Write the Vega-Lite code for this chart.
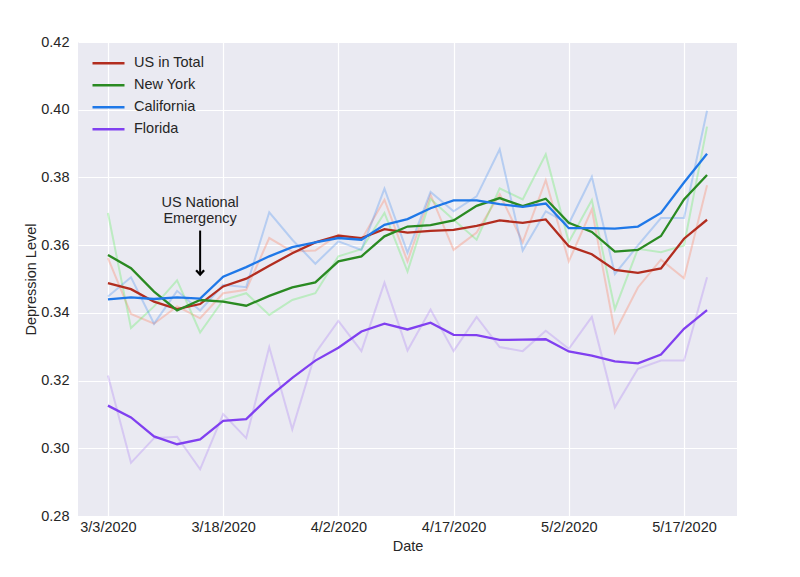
{
  "$schema": "https://vega.github.io/schema/vega-lite/v6.json",
  "width": 659,
  "height": 474,
  "autosize": {"type": "none"},
  "padding": {"left": 78, "top": 42, "right": 63, "bottom": 61},
  "background": "white",
  "config": {
    "font": "Liberation Sans",
    "view": {"fill": "#EAEAF2", "stroke": null},
    "axis": {
      "domain": false, "ticks": false, "grid": true, "gridColor": "white", "gridWidth": 1.2,
      "labelFont": "Liberation Sans", "labelFontSize": 14.5, "labelColor": "#262626",
      "titleFont": "Liberation Sans", "titleFontSize": 14.5, "titleFontWeight": "normal", "titleColor": "#262626"
    },
    "legend": {
      "labelFont": "Liberation Sans", "labelFontSize": 14.5, "labelColor": "#262626"
    }
  },
  "datasets": {
    "smooth": [
      {"d":"2020-03-03T00:00:00","s":"US in Total","v":0.3488},{"d":"2020-03-06T00:00:00","s":"US in Total","v":0.3470},{"d":"2020-03-09T00:00:00","s":"US in Total","v":0.3433},{"d":"2020-03-12T00:00:00","s":"US in Total","v":0.3411},{"d":"2020-03-15T00:00:00","s":"US in Total","v":0.3426},{"d":"2020-03-18T00:00:00","s":"US in Total","v":0.3478},{"d":"2020-03-21T00:00:00","s":"US in Total","v":0.3501},{"d":"2020-03-24T00:00:00","s":"US in Total","v":0.3539},{"d":"2020-03-27T00:00:00","s":"US in Total","v":0.3576},{"d":"2020-03-30T00:00:00","s":"US in Total","v":0.3608},{"d":"2020-04-02T00:00:00","s":"US in Total","v":0.3628},{"d":"2020-04-05T00:00:00","s":"US in Total","v":0.3621},{"d":"2020-04-08T00:00:00","s":"US in Total","v":0.3647},{"d":"2020-04-11T00:00:00","s":"US in Total","v":0.3637},{"d":"2020-04-14T00:00:00","s":"US in Total","v":0.3642},{"d":"2020-04-17T00:00:00","s":"US in Total","v":0.3645},{"d":"2020-04-20T00:00:00","s":"US in Total","v":0.3657},{"d":"2020-04-23T00:00:00","s":"US in Total","v":0.3673},{"d":"2020-04-26T00:00:00","s":"US in Total","v":0.3666},{"d":"2020-04-29T00:00:00","s":"US in Total","v":0.3676},{"d":"2020-05-02T00:00:00","s":"US in Total","v":0.3597},{"d":"2020-05-05T00:00:00","s":"US in Total","v":0.3573},{"d":"2020-05-08T00:00:00","s":"US in Total","v":0.3527},{"d":"2020-05-11T00:00:00","s":"US in Total","v":0.3518},{"d":"2020-05-14T00:00:00","s":"US in Total","v":0.3531},{"d":"2020-05-17T00:00:00","s":"US in Total","v":0.3619},{"d":"2020-05-20T00:00:00","s":"US in Total","v":0.3675},
      {"d":"2020-03-03T00:00:00","s":"New York","v":0.3571},{"d":"2020-03-06T00:00:00","s":"New York","v":0.3532},{"d":"2020-03-09T00:00:00","s":"New York","v":0.3463},{"d":"2020-03-12T00:00:00","s":"New York","v":0.3407},{"d":"2020-03-15T00:00:00","s":"New York","v":0.3438},{"d":"2020-03-18T00:00:00","s":"New York","v":0.3433},{"d":"2020-03-21T00:00:00","s":"New York","v":0.3421},{"d":"2020-03-24T00:00:00","s":"New York","v":0.3450},{"d":"2020-03-27T00:00:00","s":"New York","v":0.3475},{"d":"2020-03-30T00:00:00","s":"New York","v":0.3490},{"d":"2020-04-02T00:00:00","s":"New York","v":0.3552},{"d":"2020-04-05T00:00:00","s":"New York","v":0.3567},{"d":"2020-04-08T00:00:00","s":"New York","v":0.3626},{"d":"2020-04-11T00:00:00","s":"New York","v":0.3655},{"d":"2020-04-14T00:00:00","s":"New York","v":0.3659},{"d":"2020-04-17T00:00:00","s":"New York","v":0.3673},{"d":"2020-04-20T00:00:00","s":"New York","v":0.3716},{"d":"2020-04-23T00:00:00","s":"New York","v":0.3739},{"d":"2020-04-26T00:00:00","s":"New York","v":0.3715},{"d":"2020-04-29T00:00:00","s":"New York","v":0.3737},{"d":"2020-05-02T00:00:00","s":"New York","v":0.3666},{"d":"2020-05-05T00:00:00","s":"New York","v":0.3639},{"d":"2020-05-08T00:00:00","s":"New York","v":0.3581},{"d":"2020-05-11T00:00:00","s":"New York","v":0.3586},{"d":"2020-05-14T00:00:00","s":"New York","v":0.3627},{"d":"2020-05-17T00:00:00","s":"New York","v":0.3735},{"d":"2020-05-20T00:00:00","s":"New York","v":0.3807},
      {"d":"2020-03-03T00:00:00","s":"California","v":0.3440},{"d":"2020-03-06T00:00:00","s":"California","v":0.3446},{"d":"2020-03-09T00:00:00","s":"California","v":0.3441},{"d":"2020-03-12T00:00:00","s":"California","v":0.3446},{"d":"2020-03-15T00:00:00","s":"California","v":0.3442},{"d":"2020-03-18T00:00:00","s":"California","v":0.3507},{"d":"2020-03-21T00:00:00","s":"California","v":0.3535},{"d":"2020-03-24T00:00:00","s":"California","v":0.3567},{"d":"2020-03-27T00:00:00","s":"California","v":0.3594},{"d":"2020-03-30T00:00:00","s":"California","v":0.3608},{"d":"2020-04-02T00:00:00","s":"California","v":0.3621},{"d":"2020-04-05T00:00:00","s":"California","v":0.3616},{"d":"2020-04-08T00:00:00","s":"California","v":0.3660},{"d":"2020-04-11T00:00:00","s":"California","v":0.3677},{"d":"2020-04-14T00:00:00","s":"California","v":0.3709},{"d":"2020-04-17T00:00:00","s":"California","v":0.3732},{"d":"2020-04-20T00:00:00","s":"California","v":0.3732},{"d":"2020-04-23T00:00:00","s":"California","v":0.3721},{"d":"2020-04-26T00:00:00","s":"California","v":0.3713},{"d":"2020-04-29T00:00:00","s":"California","v":0.3723},{"d":"2020-05-02T00:00:00","s":"California","v":0.3650},{"d":"2020-05-05T00:00:00","s":"California","v":0.3650},{"d":"2020-05-08T00:00:00","s":"California","v":0.3649},{"d":"2020-05-11T00:00:00","s":"California","v":0.3655},{"d":"2020-05-14T00:00:00","s":"California","v":0.3695},{"d":"2020-05-17T00:00:00","s":"California","v":0.3785},{"d":"2020-05-20T00:00:00","s":"California","v":0.3870},
      {"d":"2020-03-03T00:00:00","s":"Florida","v":0.3126},{"d":"2020-03-06T00:00:00","s":"Florida","v":0.3091},{"d":"2020-03-09T00:00:00","s":"Florida","v":0.3035},{"d":"2020-03-12T00:00:00","s":"Florida","v":0.3012},{"d":"2020-03-15T00:00:00","s":"Florida","v":0.3026},{"d":"2020-03-18T00:00:00","s":"Florida","v":0.3081},{"d":"2020-03-21T00:00:00","s":"Florida","v":0.3086},{"d":"2020-03-24T00:00:00","s":"Florida","v":0.3152},{"d":"2020-03-27T00:00:00","s":"Florida","v":0.3208},{"d":"2020-03-30T00:00:00","s":"Florida","v":0.3259},{"d":"2020-04-02T00:00:00","s":"Florida","v":0.3297},{"d":"2020-04-05T00:00:00","s":"Florida","v":0.3345},{"d":"2020-04-08T00:00:00","s":"Florida","v":0.3368},{"d":"2020-04-11T00:00:00","s":"Florida","v":0.3351},{"d":"2020-04-14T00:00:00","s":"Florida","v":0.3371},{"d":"2020-04-17T00:00:00","s":"Florida","v":0.3335},{"d":"2020-04-20T00:00:00","s":"Florida","v":0.3334},{"d":"2020-04-23T00:00:00","s":"Florida","v":0.3320},{"d":"2020-04-26T00:00:00","s":"Florida","v":0.3321},{"d":"2020-04-29T00:00:00","s":"Florida","v":0.3322},{"d":"2020-05-02T00:00:00","s":"Florida","v":0.3286},{"d":"2020-05-05T00:00:00","s":"Florida","v":0.3274},{"d":"2020-05-08T00:00:00","s":"Florida","v":0.3257},{"d":"2020-05-11T00:00:00","s":"Florida","v":0.3251},{"d":"2020-05-14T00:00:00","s":"Florida","v":0.3277},{"d":"2020-05-17T00:00:00","s":"Florida","v":0.3353},{"d":"2020-05-20T00:00:00","s":"Florida","v":0.3408}
    ],
    "raw": [
      {"d":"2020-03-03T00:00:00","s":"US in Total","v":0.3562},{"d":"2020-03-06T00:00:00","s":"US in Total","v":0.3397},{"d":"2020-03-09T00:00:00","s":"US in Total","v":0.3368},{"d":"2020-03-12T00:00:00","s":"US in Total","v":0.3419},{"d":"2020-03-15T00:00:00","s":"US in Total","v":0.3384},{"d":"2020-03-18T00:00:00","s":"US in Total","v":0.3458},{"d":"2020-03-21T00:00:00","s":"US in Total","v":0.3468},{"d":"2020-03-24T00:00:00","s":"US in Total","v":0.3621},{"d":"2020-03-27T00:00:00","s":"US in Total","v":0.3581},{"d":"2020-03-30T00:00:00","s":"US in Total","v":0.3584},{"d":"2020-04-02T00:00:00","s":"US in Total","v":0.3631},{"d":"2020-04-05T00:00:00","s":"US in Total","v":0.3616},{"d":"2020-04-08T00:00:00","s":"US in Total","v":0.3734},{"d":"2020-04-11T00:00:00","s":"US in Total","v":0.3552},{"d":"2020-04-14T00:00:00","s":"US in Total","v":0.3749},{"d":"2020-04-17T00:00:00","s":"US in Total","v":0.3586},{"d":"2020-04-20T00:00:00","s":"US in Total","v":0.3637},{"d":"2020-04-23T00:00:00","s":"US in Total","v":0.3751},{"d":"2020-04-26T00:00:00","s":"US in Total","v":0.3609},{"d":"2020-04-29T00:00:00","s":"US in Total","v":0.3792},{"d":"2020-05-02T00:00:00","s":"US in Total","v":0.3552},{"d":"2020-05-05T00:00:00","s":"US in Total","v":0.3706},{"d":"2020-05-08T00:00:00","s":"US in Total","v":0.3342},{"d":"2020-05-11T00:00:00","s":"US in Total","v":0.3475},{"d":"2020-05-14T00:00:00","s":"US in Total","v":0.3557},{"d":"2020-05-17T00:00:00","s":"US in Total","v":0.3502},{"d":"2020-05-20T00:00:00","s":"US in Total","v":0.3777},
      {"d":"2020-03-03T00:00:00","s":"New York","v":0.3695},{"d":"2020-03-06T00:00:00","s":"New York","v":0.3355},{"d":"2020-03-09T00:00:00","s":"New York","v":0.3419},{"d":"2020-03-12T00:00:00","s":"New York","v":0.3496},{"d":"2020-03-15T00:00:00","s":"New York","v":0.3342},{"d":"2020-03-18T00:00:00","s":"New York","v":0.3438},{"d":"2020-03-21T00:00:00","s":"New York","v":0.3458},{"d":"2020-03-24T00:00:00","s":"New York","v":0.3394},{"d":"2020-03-27T00:00:00","s":"New York","v":0.3438},{"d":"2020-03-30T00:00:00","s":"New York","v":0.3458},{"d":"2020-04-02T00:00:00","s":"New York","v":0.3567},{"d":"2020-04-05T00:00:00","s":"New York","v":0.3588},{"d":"2020-04-08T00:00:00","s":"New York","v":0.3695},{"d":"2020-04-11T00:00:00","s":"New York","v":0.3522},{"d":"2020-04-14T00:00:00","s":"New York","v":0.3736},{"d":"2020-04-17T00:00:00","s":"New York","v":0.3675},{"d":"2020-04-20T00:00:00","s":"New York","v":0.3616},{"d":"2020-04-23T00:00:00","s":"New York","v":0.3768},{"d":"2020-04-26T00:00:00","s":"New York","v":0.3735},{"d":"2020-04-29T00:00:00","s":"New York","v":0.3868},{"d":"2020-05-02T00:00:00","s":"New York","v":0.3609},{"d":"2020-05-05T00:00:00","s":"New York","v":0.3733},{"d":"2020-05-08T00:00:00","s":"New York","v":0.3411},{"d":"2020-05-11T00:00:00","s":"New York","v":0.3589},{"d":"2020-05-14T00:00:00","s":"New York","v":0.3579},{"d":"2020-05-17T00:00:00","s":"New York","v":0.3599},{"d":"2020-05-20T00:00:00","s":"New York","v":0.3950},
      {"d":"2020-03-03T00:00:00","s":"California","v":0.3448},{"d":"2020-03-06T00:00:00","s":"California","v":0.3505},{"d":"2020-03-09T00:00:00","s":"California","v":0.3368},{"d":"2020-03-12T00:00:00","s":"California","v":0.3465},{"d":"2020-03-15T00:00:00","s":"California","v":0.3407},{"d":"2020-03-18T00:00:00","s":"California","v":0.3483},{"d":"2020-03-21T00:00:00","s":"California","v":0.3476},{"d":"2020-03-24T00:00:00","s":"California","v":0.3697},{"d":"2020-03-27T00:00:00","s":"California","v":0.3616},{"d":"2020-03-30T00:00:00","s":"California","v":0.3545},{"d":"2020-04-02T00:00:00","s":"California","v":0.3611},{"d":"2020-04-05T00:00:00","s":"California","v":0.3586},{"d":"2020-04-08T00:00:00","s":"California","v":0.3767},{"d":"2020-04-11T00:00:00","s":"California","v":0.3578},{"d":"2020-04-14T00:00:00","s":"California","v":0.3757},{"d":"2020-04-17T00:00:00","s":"California","v":0.3700},{"d":"2020-04-20T00:00:00","s":"California","v":0.3744},{"d":"2020-04-23T00:00:00","s":"California","v":0.3883},{"d":"2020-04-26T00:00:00","s":"California","v":0.3584},{"d":"2020-04-29T00:00:00","s":"California","v":0.3700},{"d":"2020-05-02T00:00:00","s":"California","v":0.3663},{"d":"2020-05-05T00:00:00","s":"California","v":0.3802},{"d":"2020-05-08T00:00:00","s":"California","v":0.3515},{"d":"2020-05-11T00:00:00","s":"California","v":0.3599},{"d":"2020-05-14T00:00:00","s":"California","v":0.3680},{"d":"2020-05-17T00:00:00","s":"California","v":0.3680},{"d":"2020-05-20T00:00:00","s":"California","v":0.3997},
      {"d":"2020-03-03T00:00:00","s":"Florida","v":0.3215},{"d":"2020-03-06T00:00:00","s":"Florida","v":0.2957},{"d":"2020-03-09T00:00:00","s":"Florida","v":0.3030},{"d":"2020-03-12T00:00:00","s":"Florida","v":0.3034},{"d":"2020-03-15T00:00:00","s":"Florida","v":0.2938},{"d":"2020-03-18T00:00:00","s":"Florida","v":0.3101},{"d":"2020-03-21T00:00:00","s":"Florida","v":0.3030},{"d":"2020-03-24T00:00:00","s":"Florida","v":0.3299},{"d":"2020-03-27T00:00:00","s":"Florida","v":0.3056},{"d":"2020-03-30T00:00:00","s":"Florida","v":0.3281},{"d":"2020-04-02T00:00:00","s":"Florida","v":0.3376},{"d":"2020-04-05T00:00:00","s":"Florida","v":0.3287},{"d":"2020-04-08T00:00:00","s":"Florida","v":0.3489},{"d":"2020-04-11T00:00:00","s":"Florida","v":0.3289},{"d":"2020-04-14T00:00:00","s":"Florida","v":0.3410},{"d":"2020-04-17T00:00:00","s":"Florida","v":0.3287},{"d":"2020-04-20T00:00:00","s":"Florida","v":0.3388},{"d":"2020-04-23T00:00:00","s":"Florida","v":0.3299},{"d":"2020-04-26T00:00:00","s":"Florida","v":0.3287},{"d":"2020-04-29T00:00:00","s":"Florida","v":0.3347},{"d":"2020-05-02T00:00:00","s":"Florida","v":0.3294},{"d":"2020-05-05T00:00:00","s":"Florida","v":0.3388},{"d":"2020-05-08T00:00:00","s":"Florida","v":0.3121},{"d":"2020-05-11T00:00:00","s":"Florida","v":0.3235},{"d":"2020-05-14T00:00:00","s":"Florida","v":0.3259},{"d":"2020-05-17T00:00:00","s":"Florida","v":0.3259},{"d":"2020-05-20T00:00:00","s":"Florida","v":0.3505}
    ],
    "note": [
      {"d":"2020-03-15T00:00:00","v":0.3725,"label":["US National","Emergency"]}
    ],
    "arrow": [
      {"d":"2020-03-15T00:00:00","v":0.3643,"v2":0.3513}
    ]
  },
  "encoding": {
    "x": {
      "field": "d", "type": "temporal", "title": "Date",
      "scale": {"domain": [{"year":2020,"month":2,"date":28,"hours":2,"minutes":24},{"year":2020,"month":5,"date":23,"hours":21,"minutes":36}]},
      "axis": {
        "values": [{"year":2020,"month":3,"date":3},{"year":2020,"month":3,"date":18},{"year":2020,"month":4,"date":2},{"year":2020,"month":4,"date":17},{"year":2020,"month":5,"date":2},{"year":2020,"month":5,"date":17}],
        "format": "%-m/%-d/%Y", "labelPadding": 4, "titlePadding": 6, "labelFlush": false, "labelOverlap": false
      }
    },
    "y": {
      "field": "v", "type": "quantitative", "title": "Depression Level",
      "scale": {"domain": [0.28, 0.42], "nice": false, "zero": false},
      "axis": {"values": [0.28,0.30,0.32,0.34,0.36,0.38,0.40,0.42], "format": ".2f", "labelPadding": 9, "titlePadding": 2}
    }
  },
  "layer": [
    {
      "data": {"name": "raw"},
      "mark": {"type": "line", "strokeWidth": 2, "opacity": 0.28},
      "encoding": {
        "color": {"field": "s", "type": "nominal", "legend": null,
          "scale": {"domain": ["US in Total","New York","California","Florida"], "range": ["#ff6a45","#44ee44","#2f80f0","#a070f5"]}}
      }
    },
    {
      "data": {"name": "smooth"},
      "mark": {"type": "line", "strokeWidth": 2.3},
      "encoding": {
        "color": {"field": "s", "type": "nominal",
          "scale": {"domain": ["US in Total","New York","California","Florida"], "range": ["#b22d1f","#2a8a22","#1f78e8","#8040f0"]},
          "legend": {"title": null, "orient": "none", "legendX": 13, "legendY": 10.5, "symbolType": "stroke", "symbolSize": 1024, "symbolStrokeWidth": 2.3, "labelOffset": 8, "clipHeight": 21.5, "rowPadding": 0, "padding": 0}
        }
      }
    },
    {
      "data": {"name": "arrow"},
      "mark": {"type": "rule", "color": "black", "strokeWidth": 2},
      "encoding": {"y2": {"field": "v2"}}
    },
    {
      "data": {"name": "arrow"},
      "mark": {"type": "point", "shape": "M-1,-1.1L0,0L1,-1.1", "filled": false, "color": "black", "strokeWidth": 2.2, "size": 64, "opacity": 1},
      "encoding": {"y": {"field": "v2", "type": "quantitative"}}
    },
    {
      "data": {"name": "note"},
      "mark": {"type": "text", "fontSize": 14.5, "color": "#262626", "lineHeight": 16.5, "baseline": "middle", "align": "center"},
      "encoding": {"text": {"field": "label"}}
    }
  ],
  "resolve": {"scale": {"color": "independent"}, "legend": {"color": "independent"}}
}
